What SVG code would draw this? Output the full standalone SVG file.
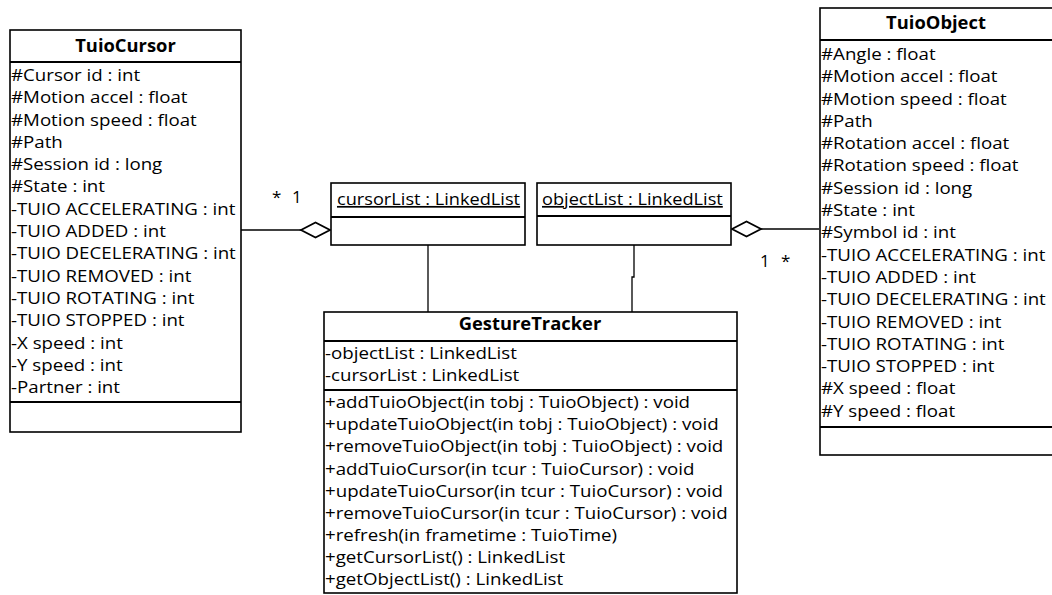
<svg xmlns="http://www.w3.org/2000/svg" width="1052" height="595" viewBox="0 0 1052 595">
<style>
.box{fill:#fff;stroke:#000;stroke-width:1.6}
.div{stroke:#000;stroke-width:2}
.t{font-family:"Open Sans","DejaVu Sans",sans-serif;font-size:17px;fill:#000}
.h{font-family:"Open Sans","DejaVu Sans",sans-serif;font-size:17px;font-weight:bold;fill:#000;text-anchor:middle}
.ln{fill:none;stroke:#000;stroke-width:1.3}
.dia{fill:#fff;stroke:#000;stroke-width:1.8}
</style>
<rect width="1052" height="595" fill="#fff"/>
<g id="connectors">
<path class="ln" d="M241,230 H301"/>
<polygon class="dia" points="301,230 315.5,222.5 330,230 315.5,237.5"/>
<path class="ln" d="M761,229 H819"/>
<polygon class="dia" points="732,229 746.5,221.5 761,229 746.5,236.5"/>
<path class="ln" d="M428,245 V312"/>
<path class="ln" d="M634,245 V277 H632 V312"/>
<text class="t" x="272" y="203">*</text>
<text class="t" x="292" y="203">1</text>
<text class="t" x="760" y="267">1</text>
<text class="t" x="781" y="267">*</text>
</g>
<g id="TuioCursor">
<rect class="box" x="10" y="30" width="231" height="402"/>
<line class="div" x1="10" y1="62" x2="241" y2="62"/>
<line class="div" x1="10" y1="402" x2="241" y2="402"/>
<text class="h" x="125.5" y="52" transform="matrix(1.08,0,0,1,-10.04,0)">TuioCursor</text>
<text class="t" transform="matrix(1.1,0,0,1,-1.1,0)">
<tspan x="11" y="81">#Cursor id : int</tspan>
<tspan x="11" y="103.3">#Motion accel : float</tspan>
<tspan x="11" y="125.6">#Motion speed : float</tspan>
<tspan x="11" y="147.9">#Path</tspan>
<tspan x="11" y="170.2">#Session id : long</tspan>
<tspan x="11" y="192.5">#State : int</tspan>
<tspan x="11" y="214.8">-TUIO ACCELERATING : int</tspan>
<tspan x="11" y="237.1">-TUIO ADDED : int</tspan>
<tspan x="11" y="259.4">-TUIO DECELERATING : int</tspan>
<tspan x="11" y="281.7">-TUIO REMOVED : int</tspan>
<tspan x="11" y="304">-TUIO ROTATING : int</tspan>
<tspan x="11" y="326.3">-TUIO STOPPED : int</tspan>
<tspan x="11" y="348.6">-X speed : int</tspan>
<tspan x="11" y="370.9">-Y speed : int</tspan>
<tspan x="11" y="393.2">-Partner : int</tspan>
</text>
</g>
<g id="TuioObject">
<rect class="box" x="820" y="8" width="240" height="447"/>
<line class="div" x1="820" y1="40" x2="1060" y2="40"/>
<line class="div" x1="820" y1="427" x2="1060" y2="427"/>
<text class="h" x="936" y="29" transform="matrix(1.08,0,0,1,-74.88,0)">TuioObject</text>
<text class="t" transform="matrix(1.1,0,0,1,-82.1,0)">
<tspan x="821" y="60">#Angle : float</tspan>
<tspan x="821" y="82.3">#Motion accel : float</tspan>
<tspan x="821" y="104.6">#Motion speed : float</tspan>
<tspan x="821" y="126.9">#Path</tspan>
<tspan x="821" y="149.2">#Rotation accel : float</tspan>
<tspan x="821" y="171.5">#Rotation speed : float</tspan>
<tspan x="821" y="193.8">#Session id : long</tspan>
<tspan x="821" y="216.1">#State : int</tspan>
<tspan x="821" y="238.4">#Symbol id : int</tspan>
<tspan x="821" y="260.7">-TUIO ACCELERATING : int</tspan>
<tspan x="821" y="283">-TUIO ADDED : int</tspan>
<tspan x="821" y="305.3">-TUIO DECELERATING : int</tspan>
<tspan x="821" y="327.6">-TUIO REMOVED : int</tspan>
<tspan x="821" y="349.9">-TUIO ROTATING : int</tspan>
<tspan x="821" y="372.2">-TUIO STOPPED : int</tspan>
<tspan x="821" y="394.5">#X speed : float</tspan>
<tspan x="821" y="416.8">#Y speed : float</tspan>
</text>
</g>
<g id="cursorList">
<rect class="box" x="331" y="183" width="194" height="62"/>
<line class="div" x1="331" y1="217" x2="525" y2="217"/>
<text class="t" x="337" y="205" text-decoration="underline" transform="matrix(1.07,0,0,1,-23.59,0)">cursorList : LinkedList</text>
</g>
<g id="objectList">
<rect class="box" x="537" y="183" width="194" height="62"/>
<line class="div" x1="537" y1="216" x2="731" y2="216"/>
<text class="t" x="542" y="205" text-decoration="underline" transform="matrix(1.07,0,0,1,-37.94,0)">objectList : LinkedList</text>
</g>
<g id="GestureTracker">
<rect class="box" x="324" y="312" width="413" height="281"/>
<line class="div" x1="324" y1="341" x2="737" y2="341"/>
<line class="div" x1="324" y1="390" x2="737" y2="390"/>
<text class="h" x="530" y="330" transform="matrix(1.08,0,0,1,-42.4,0)">GestureTracker</text>
<text class="t" transform="matrix(1.1,0,0,1,-32.5,0)">
<tspan x="325" y="359">-objectList : LinkedList</tspan>
<tspan x="325" y="381">-cursorList : LinkedList</tspan>
<tspan x="325" y="408.3">+addTuioObject(in tobj : TuioObject) : void</tspan>
<tspan x="325" y="430.4">+updateTuioObject(in tobj : TuioObject) : void</tspan>
<tspan x="325" y="452.5">+removeTuioObject(in tobj : TuioObject) : void</tspan>
<tspan x="325" y="474.6">+addTuioCursor(in tcur : TuioCursor) : void</tspan>
<tspan x="325" y="496.7">+updateTuioCursor(in tcur : TuioCursor) : void</tspan>
<tspan x="325" y="518.8">+removeTuioCursor(in tcur : TuioCursor) : void</tspan>
<tspan x="325" y="540.9">+refresh(in frametime : TuioTime)</tspan>
<tspan x="325" y="563">+getCursorList() : LinkedList</tspan>
<tspan x="325" y="585.1">+getObjectList() : LinkedList</tspan>
</text>
</g>
</svg>
